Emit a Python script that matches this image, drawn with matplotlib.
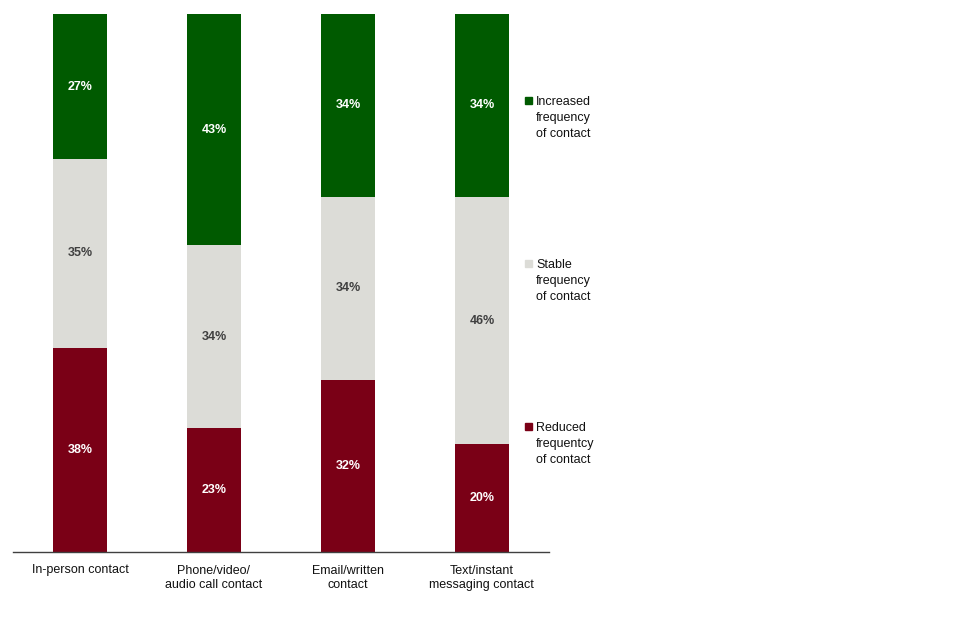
import numpy as np
import matplotlib
matplotlib.use("Agg")
import matplotlib.pyplot as plt
from matplotlib.patches import Rectangle

categories = ["In-person contact", "Phone/video/\naudio call contact",
              "Email/written\ncontact", "Text/instant\nmessaging contact"]
reduced = [38, 23, 32, 20]
stable = [35, 34, 34, 46]
increased = [27, 43, 34, 34]
legend_labels = ["Increased\nfrequency\nof contact", "Stable\nfrequency\nof contact",
                 "Reduced\nfrequentcy\nof contact"]

c_red = "#7a0016"
c_stable = "#dcdcd7"
c_green = "#005a00"

plt.rcParams["font.family"] = ["Liberation Sans", "DejaVu Sans"]
plt.rcParams["font.size"] = 9

fig = plt.figure(figsize=(9.6, 6.4), dpi=100)
ax = fig.add_axes([0.0135, 0.1375, 0.5583, 0.8406])

x = np.arange(len(categories))
w = 0.4
red = np.array(reduced)
stb = np.array(stable)
inc = np.array(increased)

ax.bar(x, red, w, color=c_red)
ax.bar(x, stb, w, bottom=red, color=c_stable)
ax.bar(x, inc, w, bottom=red + stb, color=c_green)

for i in range(len(x)):
    ax.text(x[i], red[i] / 2, f"{red[i]}%", ha="center", va="center",
            color="white", fontweight="bold")
    ax.text(x[i], red[i] + stb[i] / 2, f"{stb[i]}%", ha="center", va="center",
            color="#404040", fontweight="bold")
    ax.text(x[i], red[i] + stb[i] + inc[i] / 2, f"{inc[i]}%", ha="center",
            va="center", color="white", fontweight="bold")

ax.set_xlim(-0.5, 3.5)
ax.set_ylim(0, 100)
ax.set_xticks(x)
ax.set_xticklabels(categories, color="#111111", linespacing=1.3)
ax.tick_params(axis="x", length=0, pad=9)
ax.set_yticks([])
for s in ["top", "right", "left"]:
    ax.spines[s].set_visible(False)
ax.spines["bottom"].set_color("#404040")
ax.spines["bottom"].set_linewidth(1.0)

# legend drawn by hand so the square sits next to the first line
leg_colors = [c_green, c_stable, c_red]
leg_top = [94, 257, 420]  # pixel rows from top
for lab, col, ytop in zip(legend_labels, leg_colors, leg_top):
    fig.text(536 / 960, 1 - (ytop + 2) / 640, lab, ha="left", va="top",
             linespacing=1.45, color="#111111")
    fig.patches.append(Rectangle((525 / 960, 1 - (ytop + 10) / 640),
                                 7 / 960, 7 / 640, color=col,
                                 transform=fig.transFigure, figure=fig))

fig.savefig("out.png", dpi=100)
